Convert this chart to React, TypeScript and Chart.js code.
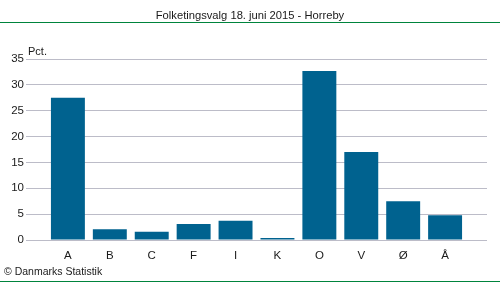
import React, { useEffect, useRef } from "react";
import { Chart, registerables } from "chart.js";

Chart.register(...registerables);

const categories = ["A", "B", "C", "F", "I", "K", "O", "V", "Ø", "Å"];
const values = [27.5, 2.1, 1.6, 3.1, 3.7, 0.4, 32.7, 17.0, 7.5, 4.8];
const yTicks = [0, 5, 10, 15, 20, 25, 30, 35];
const titleText = "Folketingsvalg 18. juni 2015 - Horreby";
const unitText = "Pct.";
const sourceText = "© Danmarks Statistik";

const FONT = "'Liberation Sans', Arial, sans-serif";

export default function App() {
  const ref = useRef<HTMLCanvasElement | null>(null);
  useEffect(() => {
    if (!ref.current) return;
    // pad with empty slots at both ends so the grid extends half a slot beyond bars
    const labels = ["", ...categories, ""];
    const data = [null, ...values, null];
    const decor = {
      id: "decor",
      afterDraw(chart: any) {
        const ctx = chart.ctx;
        const w = chart.width;
        ctx.save();
        ctx.fillStyle = "#1a1a1a";
        ctx.font = `11.2px ${FONT}`;
        ctx.textAlign = "center";
        ctx.textBaseline = "middle";
        ctx.fillText(titleText, w / 2, 15.5);
        ctx.strokeStyle = "#00843d";
        ctx.lineWidth = 1;
        ctx.beginPath();
        ctx.moveTo(0, 22.5);
        ctx.lineTo(w, 22.5);
        ctx.moveTo(0, 281.5);
        ctx.lineTo(w, 281.5);
        ctx.stroke();
        ctx.textAlign = "left";
        ctx.font = `11px ${FONT}`;
        ctx.fillText(unitText, chart.chartArea.left + 2, 52);
        ctx.font = `10.5px ${FONT}`;
        ctx.fillText(sourceText, 4, 272);
        ctx.restore();
      },
    };
    const chart = new Chart(ref.current, {
      type: "bar",
      data: {
        labels,
        datasets: [
          {
            data,
            backgroundColor: "#00628f",
            barPercentage: 0.81,
            categoryPercentage: 1,
          },
        ],
      },
      options: {
        animation: false,
        responsive: false,
        maintainAspectRatio: false,
        layout: { padding: { top: 59, right: 13, left: 0, bottom: 0 } },
        plugins: { legend: { display: false }, tooltip: { enabled: false }, title: { display: false } },
        scales: {
          x: {
            type: "category",
            offset: false,
            grid: { display: false, drawTicks: false },
            border: { display: false },
            ticks: {
              color: "#1a1a1a",
              font: { family: FONT, size: 11.5 },
              padding: 9,
              autoSkip: false,
              maxRotation: 0,
            },
            afterFit(s: any) {
              s.height = 42;
            },
          },
          y: {
            min: 0,
            max: 35,
            afterBuildTicks(s: any) {
              s.ticks = yTicks.map((v) => ({ value: v }));
            },
            grid: { color: "#bcbcc8", drawTicks: false, lineWidth: 1 },
            border: { display: false },
            ticks: {
              color: "#1a1a1a",
              font: { family: FONT, size: 11.5 },
              padding: 2,
            },
            afterFit(s: any) {
              s.width = 26;
            },
          },
        },
      },
      plugins: [decor],
    });
    return () => chart.destroy();
  }, []);
  return (
    <div style={{ position: "absolute", left: 0, top: 0, width: 500, height: 282, background: "#fff" }}>
      <canvas ref={ref} width={500} height={282} style={{ display: "block" }} />
    </div>
  );
}
